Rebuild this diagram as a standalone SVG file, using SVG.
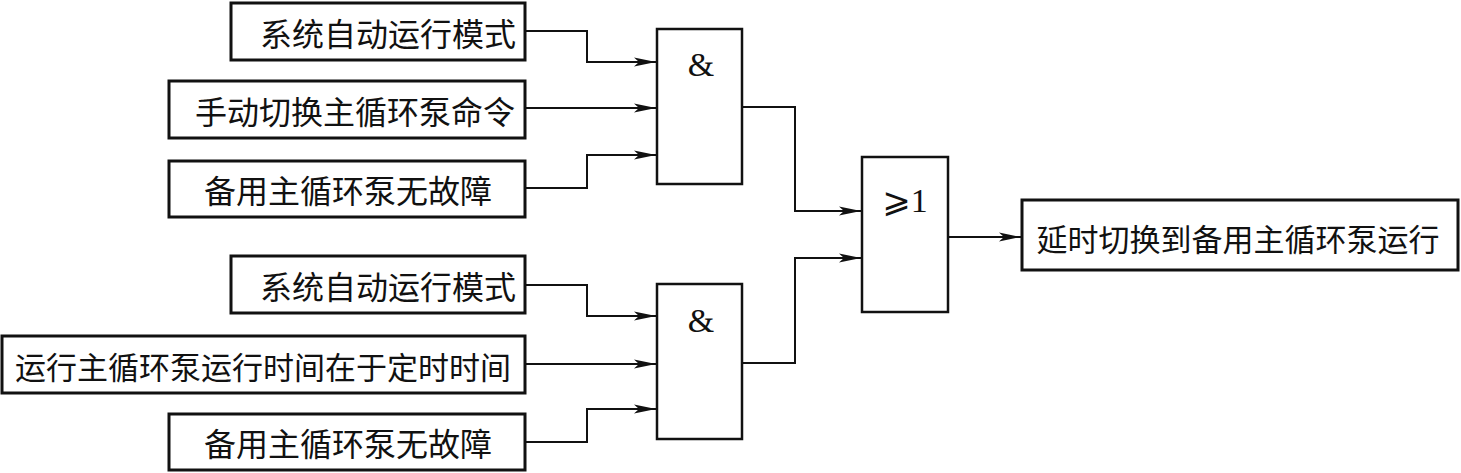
<svg xmlns="http://www.w3.org/2000/svg" width="1461" height="473" viewBox="0 0 1461 473">
<style>
.box{fill:#fff;stroke:#111;stroke-width:3}
.gate{fill:#fff;stroke:#111;stroke-width:2.5}
.t{font-family:"Noto Sans CJK SC",sans-serif;font-size:32px;fill:#111;text-anchor:middle;dominant-baseline:central}
.n{font-size:31px}
.s{font-family:"Liberation Serif","DejaVu Serif","DejaVu Sans",serif;font-size:34px;fill:#111;text-anchor:middle;dominant-baseline:central}
.c{fill:none;stroke:#111;stroke-width:2;marker-end:url(#a)}
</style>
<defs>
<marker id="a" markerUnits="userSpaceOnUse" markerWidth="24" markerHeight="12" refX="22" refY="6" orient="auto">
<path d="M0,1.5 L22,6 L0,10.5 L5,6 Z" fill="#111"/>
</marker>
</defs>
<g id="connectors">
<path class="c" d="M525,31 H587 V62 H656"/>
<path class="c" d="M525,108 H656"/>
<path class="c" d="M525,188 H587 V155 H656"/>
<path class="c" d="M742,107 H795 V211 H861"/>
<path class="c" d="M742,363 H795 V258 H861"/>
<path class="c" d="M948,237 H1021"/>
<path class="c" d="M525,285 H587 V316 H656"/>
<path class="c" d="M525,364 H656"/>
<path class="c" d="M525,442 H587 V409 H656"/>
</g>
<g id="in1"><rect class="box" x="231" y="3" width="294" height="57"/><text class="t" x="388" y="32">系统自动运行模式</text></g>
<g id="in2"><rect class="box" x="169" y="81" width="356" height="57"/><text class="t" x="355" y="110">手动切换主循环泵命令</text></g>
<g id="in3"><rect class="box" x="169" y="161" width="356" height="56"/><text class="t" x="348" y="189">备用主循环泵无故障</text></g>
<g id="and1"><rect class="gate" x="657" y="29" width="85" height="155"/><text class="s" x="701" y="64">&amp;</text></g>
<g id="in4"><rect class="box" x="231" y="256" width="294" height="57"/><text class="t" x="388" y="285">系统自动运行模式</text></g>
<g id="in5"><rect class="box" x="2" y="336" width="523" height="57"/><text class="t n" x="263" y="365">运行主循环泵运行时间在于定时时间</text></g>
<g id="in6"><rect class="box" x="169" y="414" width="356" height="56"/><text class="t" x="348" y="442">备用主循环泵无故障</text></g>
<g id="and2"><rect class="gate" x="657" y="284" width="85" height="155"/><text class="s" x="701" y="320">&amp;</text></g>
<g id="or"><rect class="gate" x="862" y="157" width="86" height="155"/><text class="s" x="905" y="200">⩾1</text></g>
<g id="out"><rect class="box" x="1022" y="200" width="436" height="70"/><text class="t n" x="1238" y="237">延时切换到备用主循环泵运行</text></g>
</svg>
